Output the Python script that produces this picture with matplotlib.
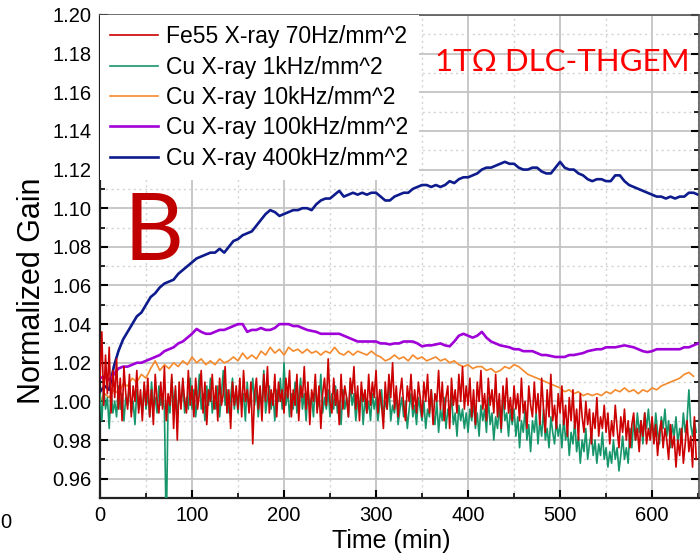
import numpy as np
import matplotlib
matplotlib.use("Agg")
import matplotlib.pyplot as plt
from matplotlib.ticker import MultipleLocator, FormatStrFormatter

# ---------------- data ----------------
labels = ["Fe55 X-ray 70Hz/mm^2", "Cu X-ray 1kHz/mm^2", "Cu X-ray 10kHz/mm^2",
          "Cu X-ray 100kHz/mm^2", "Cu X-ray 400kHz/mm^2"]
colors = ["#cc0000", "#17966b", "#f58a2c", "#a000d8", "#0d1b8c"]

# 400 kHz (5-min steps)
gain_400k = [1.005, 1.008, 1.006, 1.018, 1.026, 1.032, 1.036, 1.040, 1.044, 1.046,
             1.050, 1.054, 1.056, 1.059, 1.061, 1.062, 1.063, 1.066, 1.068, 1.070,
             1.072, 1.074, 1.075, 1.076, 1.077, 1.077, 1.079, 1.077, 1.080, 1.083,
             1.084, 1.086, 1.087, 1.088, 1.091, 1.094, 1.097, 1.099, 1.098, 1.096,
             1.097, 1.098, 1.099, 1.099, 1.100, 1.100, 1.099, 1.102, 1.104, 1.105,
             1.105, 1.107, 1.109, 1.106, 1.107, 1.108, 1.107, 1.108, 1.107, 1.108,
             1.108, 1.106, 1.104, 1.104, 1.106, 1.107, 1.108, 1.108, 1.110, 1.111,
             1.112, 1.112, 1.111, 1.112, 1.111, 1.112, 1.114, 1.113, 1.115, 1.116,
             1.116, 1.117, 1.118, 1.120, 1.121, 1.121, 1.122, 1.123, 1.124, 1.123,
             1.123, 1.121, 1.120, 1.120, 1.121, 1.121, 1.119, 1.118, 1.118, 1.121,
             1.124, 1.121, 1.120, 1.120, 1.118, 1.117, 1.115, 1.114, 1.115, 1.115,
             1.114, 1.114, 1.117, 1.117, 1.114, 1.112, 1.111, 1.110, 1.109, 1.108,
             1.107, 1.106, 1.106, 1.105, 1.106, 1.105, 1.106, 1.106, 1.108, 1.108,
             1.107]

# 100 kHz (5-min steps)
gain_100k = [1.012, 1.013, 1.011, 1.014, 1.017, 1.018, 1.018, 1.019, 1.020, 1.020,
             1.021, 1.022, 1.023, 1.024, 1.026, 1.027, 1.028, 1.030, 1.031, 1.033,
             1.035, 1.0375, 1.036, 1.035, 1.035, 1.036, 1.037, 1.037, 1.038, 1.039,
             1.040, 1.040, 1.036, 1.037, 1.037, 1.038, 1.037, 1.037, 1.038, 1.040,
             1.040, 1.040, 1.039, 1.039, 1.038, 1.037, 1.0365, 1.036, 1.035, 1.035,
             1.035, 1.035, 1.035, 1.034, 1.033, 1.032, 1.031, 1.031, 1.031, 1.031,
             1.031, 1.030, 1.030, 1.0295, 1.030, 1.030, 1.031, 1.031, 1.031, 1.030,
             1.0285, 1.029, 1.029, 1.0295, 1.030, 1.029, 1.0285, 1.031, 1.034, 1.035,
             1.034, 1.033, 1.034, 1.036, 1.033, 1.031, 1.030, 1.029, 1.0285, 1.028,
             1.027, 1.027, 1.026, 1.026, 1.026, 1.025, 1.024, 1.024, 1.0235, 1.023,
             1.023, 1.023, 1.024, 1.024, 1.0245, 1.025, 1.026, 1.0265, 1.027, 1.027,
             1.028, 1.028, 1.028, 1.0285, 1.029, 1.0285, 1.028, 1.027, 1.026, 1.0255,
             1.026, 1.027, 1.027, 1.027, 1.027, 1.027, 1.027, 1.028, 1.028, 1.029,
             1.030]

# 10 kHz (5-min steps)
gain_10k = [1.000, 1.004, 1.002, 1.006, 1.004, 1.009, 1.008, 1.012, 1.010, 1.014,
            1.012, 1.017, 1.021, 1.016, 1.019, 1.017, 1.020, 1.018, 1.021, 1.019,
            1.023, 1.020, 1.022, 1.019, 1.021, 1.019, 1.022, 1.020, 1.021, 1.023,
            1.021, 1.025, 1.022, 1.024, 1.022, 1.026, 1.024, 1.028, 1.025, 1.027,
            1.024, 1.028, 1.026, 1.027, 1.025, 1.027, 1.025, 1.026, 1.024, 1.026,
            1.025, 1.028, 1.025, 1.024, 1.026, 1.024, 1.026, 1.025, 1.024, 1.026,
            1.024, 1.023, 1.021, 1.022, 1.024, 1.022, 1.023, 1.021, 1.024, 1.022,
            1.023, 1.021, 1.022, 1.023, 1.021, 1.022, 1.020, 1.021, 1.019, 1.018,
            1.019, 1.017, 1.018, 1.018, 1.016, 1.017, 1.015, 1.016, 1.018, 1.017,
            1.019, 1.018, 1.016, 1.014, 1.013, 1.012, 1.011, 1.010, 1.009, 1.008,
            1.007, 1.005, 1.006, 1.004, 1.005, 1.003, 1.004, 1.003, 1.004, 1.003,
            1.005, 1.004, 1.006, 1.005, 1.007, 1.005, 1.006, 1.004, 1.006, 1.005,
            1.007, 1.006, 1.008, 1.009, 1.010, 1.011, 1.012, 1.014, 1.015, 1.013]

# 1 kHz (2-min steps)
gain_1k = [
    1.004, 0.990, 1.008, 0.996, 1.002, 0.986, 1.006, 0.994, 1.000, 0.992, 1.008, 0.996, 1.004,
    0.990, 1.002, 0.998, 1.010, 0.994, 1.000, 0.988, 1.006, 0.996, 1.002, 0.994, 1.008,
    0.996, 1.004, 0.992, 1.010, 0.998, 1.002, 0.994, 1.008, 0.998, 1.004, 0.996, 0.930, 1.000,
    0.994, 1.012, 0.998, 1.006, 0.992, 1.004, 0.998, 1.010, 0.994, 1.002, 0.996, 1.012,
    0.996, 1.006, 0.992, 1.002, 1.014, 0.996, 1.004, 0.990, 1.008, 0.998, 1.012, 0.994, 1.002,
    0.996, 1.008, 0.992, 1.004, 1.016, 0.998, 1.006, 0.994, 1.002, 1.012, 0.996, 1.004,
    0.994, 1.008, 0.998, 1.004, 0.990, 1.010, 0.996, 1.002, 1.012, 0.998, 1.006, 0.992, 1.004,
    0.998, 1.016, 0.994, 1.002, 1.008, 0.996, 1.004, 0.990, 1.006, 1.000, 1.012, 0.996,
    1.020, 0.998, 1.006, 0.992, 1.004, 0.996, 1.010, 0.994, 1.002, 1.012, 0.996, 1.004, 0.990,
    1.006, 0.998, 1.002, 0.992, 1.010, 0.996, 1.000, 1.014, 0.994, 1.002, 0.996, 1.006,
    0.992, 1.004, 0.996, 1.008, 0.994, 1.000, 0.988, 1.006, 0.996, 1.002, 0.992, 1.010, 0.998,
    1.004, 0.990, 1.000, 0.996, 1.006, 0.988, 1.002, 0.994, 1.000, 0.990, 1.004, 0.996,
    1.002, 0.990, 0.998, 1.006, 0.992, 1.000, 0.996, 1.008, 0.990, 0.998, 0.994, 1.004, 0.988,
    0.996, 1.002, 0.992, 1.000, 0.986, 0.996, 1.004, 0.992, 0.998, 0.988, 1.002, 0.996,
    0.990, 1.000, 0.986, 0.996, 0.992, 1.006, 0.994, 0.988, 1.000, 0.984, 0.996, 0.990, 1.002,
    0.986, 0.996, 0.992, 1.004, 0.988, 0.994, 0.982, 0.998, 0.990, 0.996, 0.986, 0.994,
    0.984, 0.996, 0.990, 1.000, 0.986, 0.994, 0.982, 0.998, 0.990, 0.996, 0.984, 1.002, 0.988,
    0.994, 0.980, 0.992, 0.986, 0.998, 0.984, 1.004, 0.990, 0.994, 0.982, 0.996, 0.988,
    0.996, 0.982, 0.992, 0.976, 0.990, 0.984, 0.996, 0.980, 0.988, 0.974, 0.990, 0.984, 0.994,
    0.978, 0.990, 0.982, 0.996, 0.980, 0.986, 0.976, 0.992, 0.984, 0.978, 0.990, 0.982,
    0.988, 0.976, 0.992, 0.980, 0.986, 0.972, 0.984, 0.978, 0.990, 0.974, 0.982, 0.968, 0.980,
    0.974, 0.986, 0.970, 0.978, 0.984, 0.972, 0.980, 0.968, 0.978, 0.972, 0.984, 0.970,
    0.976, 0.966, 0.974, 0.968, 0.980, 0.970, 0.976, 0.964, 0.972, 0.982, 0.970, 0.976, 0.968,
    0.986, 0.976, 0.990, 0.980, 0.994, 0.984, 0.990, 0.978, 0.994, 0.986, 0.996, 0.984,
    0.990, 0.980, 0.994, 0.984, 0.978, 0.992, 0.986, 0.996, 0.982, 0.990, 0.976, 0.988, 0.982,
    0.992, 0.978, 0.986, 0.980, 0.994, 0.984, 0.990, 1.006, 0.988, 0.982, 0.990, 0.984]

# Fe55 70 Hz (2-min steps)
gain_fe55 = [
    1.012, 1.036, 0.998, 1.024, 1.004, 1.028, 0.994, 1.016, 1.002, 1.022, 0.996, 1.012, 0.990,
    1.018, 1.004, 0.996, 1.014, 0.992, 1.008, 1.000, 1.016, 0.994, 1.006, 0.990, 1.010,
    0.998, 1.012, 0.992, 1.006, 0.988, 1.014, 1.000, 0.994, 1.010, 0.996, 1.018, 0.990, 1.004,
    0.998, 1.014, 0.986, 1.008, 0.980, 1.010, 0.996, 1.012, 1.000, 0.994, 1.016, 0.998,
    1.008, 0.992, 1.012, 0.996, 1.004, 1.016, 0.994, 1.010, 0.988, 1.006, 1.000, 1.014, 0.996,
    1.008, 0.990, 1.012, 0.998, 1.004, 1.018, 0.994, 1.006, 0.986, 1.010, 0.998, 1.008,
    0.996, 1.012, 0.992, 1.016, 1.000, 1.006, 0.994, 1.010, 0.978, 1.004, 1.012, 0.996, 1.008,
    0.990, 1.014, 1.000, 1.018, 0.994, 1.006, 0.998, 1.014, 0.992, 1.010, 1.000, 1.006,
    0.994, 1.012, 1.002, 1.016, 0.992, 1.006, 0.998, 1.014, 0.990, 1.008, 1.002, 1.018, 0.996,
    1.010, 0.988, 1.006, 1.000, 1.014, 0.994, 1.008, 0.986, 1.004, 1.012, 0.998, 1.022,
    1.000, 0.994, 1.012, 0.998, 1.006, 0.988, 1.014, 0.996, 1.008, 1.002, 0.992, 1.012, 1.004,
    1.018, 0.996, 1.008, 0.990, 1.010, 1.000, 1.006, 0.994, 1.014, 0.998, 1.010, 1.002,
    1.016, 0.994, 1.006, 0.998, 0.986, 1.010, 0.996, 1.014, 1.002, 1.020, 0.996, 1.008, 0.992,
    1.004, 1.012, 0.998, 0.990, 1.008, 1.000, 1.014, 0.996, 1.006, 0.994, 1.010, 1.002,
    0.992, 1.010, 1.000, 1.014, 0.994, 1.006, 0.988, 1.004, 1.000, 1.016, 0.996, 1.010, 0.990,
    1.002, 1.008, 0.986, 1.012, 0.998, 1.006, 0.994, 1.014, 1.000, 1.018, 0.996, 1.008,
    0.998, 1.012, 0.992, 1.006, 0.988, 1.010, 1.000, 1.016, 0.996, 1.004, 0.990, 1.012, 0.998,
    1.006, 0.994, 1.014, 0.992, 1.004, 0.986, 1.008, 0.996, 1.012, 0.994, 1.002, 0.990,
    1.008, 0.996, 1.004, 0.990, 1.012, 0.994, 1.000, 0.986, 1.008, 0.998, 0.992, 1.010, 0.994,
    1.004, 0.988, 1.012, 0.996, 0.984, 1.006, 0.992, 1.014, 0.990, 0.998, 0.986, 1.004,
    0.994, 1.008, 0.988, 0.998, 0.982, 1.002, 0.990, 1.006, 0.986, 0.996, 0.980, 1.004, 0.992,
    0.984, 1.000, 0.988, 0.996, 0.978, 0.994, 0.986, 1.002, 0.982, 0.992, 0.986, 0.998,
    0.984, 0.994, 0.978, 0.990, 0.982, 0.998, 0.986, 0.976, 0.992, 0.984, 0.996, 0.980, 0.990,
    0.976, 0.988, 0.994, 0.980, 0.986, 0.974, 0.990, 0.982, 0.994, 0.978, 0.986, 0.980,
    0.992, 0.978, 0.988, 0.972, 0.984, 0.990, 0.976, 0.986, 0.980, 0.970, 0.988, 0.976, 0.982,
    0.966, 0.980, 0.972, 0.986, 0.968, 0.978, 0.990, 0.974, 0.982, 0.966, 0.992, 0.970]

series = [gain_fe55, gain_1k, gain_10k, gain_100k, gain_400k]
steps = [2, 2, 5, 5, 5]
widths = [1.2, 1.2, 1.2, 1.9, 1.9]
zorders = [6, 5, 4, 3, 2]

# ---------------- figure ----------------
fig = plt.figure(figsize=(7.0, 5.55), dpi=100)
ax = fig.add_axes([100 / 700, 1 - 498 / 555, 599 / 700, (498 - 15) / 555])

for vals, lab, col, st, lw, zo in zip(series, labels, colors, steps, widths, zorders):
    t = np.arange(len(vals)) * st
    ax.plot(t, vals, color=col, lw=lw, label=lab, zorder=zo)

ax.set_xlim(0, 651)
ax.set_ylim(0.95, 1.20)
ax.xaxis.set_major_locator(MultipleLocator(100))
ax.xaxis.set_minor_locator(MultipleLocator(50))
ax.yaxis.set_major_locator(MultipleLocator(0.02))
ax.yaxis.set_minor_locator(MultipleLocator(0.01))
ax.yaxis.set_major_formatter(FormatStrFormatter("%.2f"))

ax.grid(which="major", color="#c4c4c4", lw=1.3, ls="-", zorder=0)
ax.grid(which="minor", color="#d2d2d2", lw=1.0, ls=(0, (1.5, 2.5)), zorder=0)
ax.set_axisbelow(True)

ax.tick_params(which="both", direction="in", left=True, right=True, bottom=True, top=False)
ax.tick_params(which="major", length=6, width=1.5, labelsize=14.5, pad=6)
ax.tick_params(which="minor", length=3.5, width=1.2)
for lbl in ax.get_xticklabels() + ax.get_yticklabels():
    lbl.set_family("Liberation Sans")
for s in ["left", "bottom"]:
    ax.spines[s].set_linewidth(1.6)
    ax.spines[s].set_color("#222222")
for s in ["top", "right"]:
    ax.spines[s].set_linewidth(1.2)
    ax.spines[s].set_color("#555555")

ax.set_xlabel("Time (min)", fontsize=18, family="Liberation Sans", labelpad=2)
ax.xaxis.set_label_coords(0.487, -0.065)
ax.set_ylabel("Normalized Gain", fontsize=22, family="Liberation Sans")
ax.yaxis.set_label_coords(-0.088, 0.43)

leg = ax.legend(loc="upper left", bbox_to_anchor=(0, 1), borderaxespad=0.0,
                borderpad=0.45, frameon=True, framealpha=1.0, edgecolor="none",
                facecolor="white", fancybox=False, handlelength=2.1,
                handletextpad=0.35, labelspacing=0.32,
                prop={"family": "Liberation Sans", "size": 16.5})
leg.set_zorder(10)

ax.text(0.985, 0.903, "1T\u03a9 DLC-THGEM", transform=ax.transAxes, color="#ff0000",
        fontsize=22.5, family=["Lato", "DejaVu Sans"], ha="right", va="center", zorder=11)
ax.text(0.040, 0.547, "B", transform=ax.transAxes, color="#c00000",
        fontsize=67, family=["Lato", "DejaVu Sans"], ha="left", va="center", zorder=11)

fig.text(0.0, 1 - 523 / 555, "0", fontsize=14.5, family="Liberation Sans",
         ha="left", va="center")

fig.savefig("out.png", dpi=100)
